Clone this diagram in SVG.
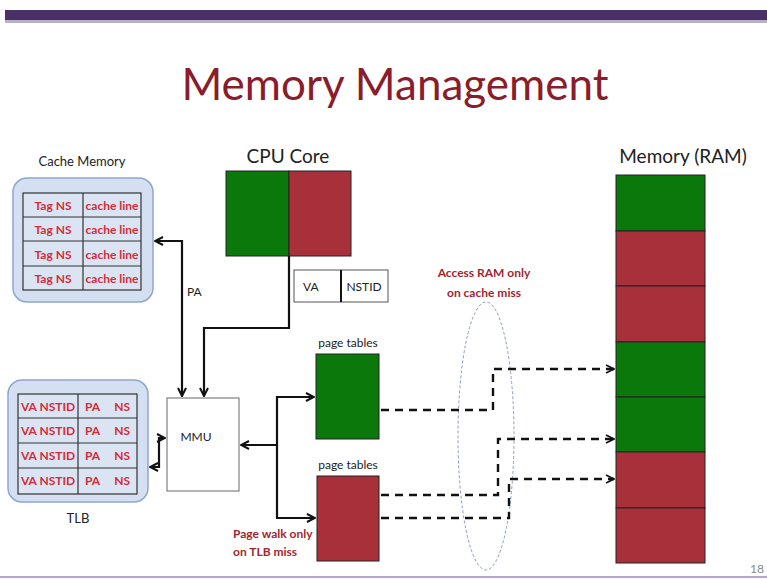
<svg xmlns="http://www.w3.org/2000/svg" width="767" height="579" viewBox="0 0 767 579">
<defs>
<marker id="ah" viewBox="0 0 10 10" refX="9" refY="5" markerWidth="10" markerHeight="10" markerUnits="userSpaceOnUse" orient="auto-start-reverse">
<path d="M1,1 L9,5 L1,9" fill="none" stroke="#111" stroke-width="2"/>
</marker>
<marker id="ahd" viewBox="0 0 10 10" refX="9" refY="5" markerWidth="10" markerHeight="10" markerUnits="userSpaceOnUse" orient="auto">
<path d="M1,1 L9,5 L1,9" fill="none" stroke="#111" stroke-width="1.6"/>
</marker>
</defs>
<style>
text{font-family:Lato,"Open Sans","Liberation Sans",sans-serif}
.lbl{fill:#222;text-anchor:middle}
.red{fill:#d22d3a;font-weight:bold;font-size:12px}
.dred{fill:#a3262f;font-weight:bold;font-size:12px}
.g{fill:#0b780b;stroke:#222;stroke-width:1}
.r{fill:#a8303a;stroke:#222;stroke-width:1}
.tbl{fill:none;stroke:#333;stroke-width:1.2}
.panel{fill:#d4e0f1;stroke:#8ea6cf;stroke-width:1.5}
.c{fill:none;stroke:#111;stroke-width:2.2}
.d{fill:none;stroke:#111;stroke-width:2.4;stroke-dasharray:8 6}
</style>
<rect x="0" y="0" width="767" height="579" fill="#ffffff"/>
<rect x="5" y="10" width="762" height="10" fill="#4b3068"/>
<rect x="5" y="20" width="762" height="3" fill="#b8b0c4"/>
<line x1="0" y1="577" x2="767" y2="577" stroke="#b9a3d0" stroke-width="2"/>
<text x="395" y="100" text-anchor="middle" font-size="44" fill="#8a1d2b">Memory Management</text>
<text x="757" y="573" font-size="12" fill="#888" text-anchor="middle">18</text>

<g id="cache">
<text class="lbl" x="82" y="166" font-size="13">Cache Memory</text>
<rect class="panel" x="13" y="178" width="140" height="124" rx="14"/>
<rect x="23" y="193" width="118" height="97" fill="#dbe4f2" stroke="#333" stroke-width="1.2"/>
<path class="tbl" d="M83,193V290M23,217H141M23,241H141M23,266H141"/>
<text class="red" x="53" y="210" text-anchor="middle">Tag  NS</text>
<text class="red" x="112" y="210" text-anchor="middle">cache line</text>
<text class="red" x="53" y="234" text-anchor="middle">Tag  NS</text>
<text class="red" x="112" y="234" text-anchor="middle" font-size="11">cache line</text>
<text class="red" x="53" y="259" text-anchor="middle">Tag  NS</text>
<text class="red" x="112" y="259" text-anchor="middle">cache line</text>
<text class="red" x="53" y="283" text-anchor="middle">Tag NS</text>
<text class="red" x="112" y="283" text-anchor="middle">cache line</text>
</g>

<g id="tlb">
<rect class="panel" x="8" y="380" width="140" height="122" rx="14"/>
<rect x="18" y="394" width="119" height="100" fill="#dbe4f2" stroke="#333" stroke-width="1.2"/>
<path class="tbl" d="M78,394V494M18,418H137M18,443H137M18,468H137"/>
<text class="red" x="48" y="411" text-anchor="middle">VA NSTID</text>
<text class="red" x="85" y="411">PA</text><text class="red" x="130" y="411" text-anchor="end">NS</text>
<text class="red" x="48" y="435" text-anchor="middle">VA NSTID</text>
<text class="red" x="85" y="435">PA</text><text class="red" x="130" y="435" text-anchor="end">NS</text>
<text class="red" x="48" y="460" text-anchor="middle">VA NSTID</text>
<text class="red" x="85" y="460">PA</text><text class="red" x="130" y="460" text-anchor="end">NS</text>
<text class="red" x="48" y="485" text-anchor="middle">VA NSTID</text>
<text class="red" x="85" y="485">PA</text><text class="red" x="130" y="485" text-anchor="end">NS</text>
<text class="lbl" x="78" y="523" font-size="13">TLB</text>
</g>

<g id="cpu">
<text class="lbl" x="288" y="163" font-size="19">CPU Core</text>
<rect class="g" x="226" y="171" width="63" height="85"/>
<rect class="r" x="289" y="171" width="62" height="85"/>
</g>

<g id="va">
<rect x="294" y="270" width="94" height="32" fill="#fff" stroke="#555" stroke-width="1"/>
<line x1="341" y1="270" x2="341" y2="302" stroke="#111" stroke-width="2"/>
<text x="303" y="291" font-size="12" fill="#222">VA</text>
<text x="364" y="291" font-size="12" fill="#222" text-anchor="middle">NSTID</text>
</g>

<g id="mmu">
<rect x="167" y="398" width="72" height="93" fill="#fff" stroke="#666" stroke-width="1"/>
<text class="lbl" x="196" y="441" font-size="12">MMU</text>
</g>

<g id="pt-green">
<text class="lbl" x="348" y="347" font-size="12">page tables</text>
<rect class="g" x="316" y="354" width="63" height="85"/>
</g>
<g id="pt-red">
<text class="lbl" x="348" y="469" font-size="12">page tables</text>
<rect class="r" x="317" y="476" width="62" height="85"/>
</g>

<g id="ram">
<text class="lbl" x="683" y="163" font-size="19">Memory (RAM)</text>
<rect class="g" x="616" y="175" width="89" height="56"/>
<rect class="r" x="616" y="231" width="89" height="55"/>
<rect class="r" x="616" y="286" width="89" height="56"/>
<rect class="g" x="616" y="342" width="89" height="55"/>
<rect class="g" x="616" y="397" width="89" height="55"/>
<rect class="r" x="616" y="452" width="89" height="56"/>
<rect class="r" x="616" y="508" width="89" height="55"/>
</g>

<g id="notes">
<text class="dred" x="484" y="277" text-anchor="middle">Access RAM only</text>
<text class="dred" x="484" y="297" text-anchor="middle">on cache miss</text>
<text class="dred" x="233" y="538">Page walk only</text>
<text class="dred" x="233" y="556">on TLB miss</text>
<text x="187" y="296" font-size="12" fill="#222">PA</text>
<ellipse cx="486" cy="436" rx="28" ry="134" fill="none" stroke="#8b9cc4" stroke-width="1" stroke-dasharray="3 2"/>
</g>

<g id="connectors">
<path class="c" d="M182,396V241H155" marker-start="url(#ah)" marker-end="url(#ah)"/>
<path class="c" d="M289,256V328H204V396" marker-end="url(#ah)"/>
<path class="c" d="M150,467H159V438H165" marker-start="url(#ah)" marker-end="url(#ah)"/>
<path class="c" d="M277,445H241" marker-end="url(#ah)"/>
<path class="c" d="M314,397H277V518H315" marker-start="url(#ah)" marker-end="url(#ah)"/>
<path class="d" d="M381,410H493V369H614" marker-end="url(#ahd)"/>
<path class="d" d="M381,495H498V439H614" marker-end="url(#ahd)"/>
<path class="d" d="M381,518H509V479H614" marker-end="url(#ahd)"/>
</g>
</svg>
